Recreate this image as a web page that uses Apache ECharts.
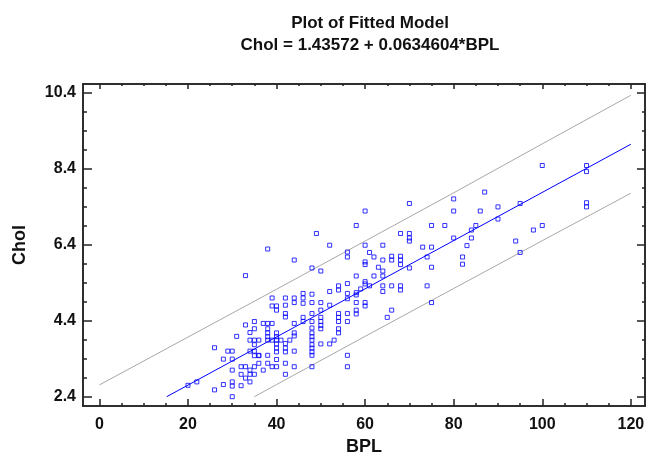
<!DOCTYPE html>
<html>
<head>
<meta charset="utf-8">
<script src="https://cdn.jsdelivr.net/npm/echarts@6/dist/echarts.min.js"></script>
<style>
html,body{margin:0;padding:0;background:#fff;}
#main{width:646px;height:452px;}
</style>
</head>
<body>
<div id="main"></div>
<script>
// tick labels
var xMajor = [0, 20, 40, 60, 80, 100, 120];
var xMinor = [0, 5, 10, 15, 20, 25, 30, 35, 40, 45, 50, 55, 60, 65, 70, 75, 80, 85, 90, 95, 100, 105, 110, 115, 120];
var yMajor = [2.4, 4.4, 6.4, 8.4, 10.4];
var yMinor = [2.4, 2.9, 3.4, 3.9, 4.4, 4.9, 5.4, 5.9, 6.4, 6.9, 7.4, 7.9, 8.4, 8.9, 9.4, 9.9, 10.4];

// fitted line and prediction limits
var fitX = [15.2, 120];
var fitY = [2.40, 9.05];
var upperX = [0, 20, 40, 60, 80, 100, 120];
var upperY = [2.71, 3.97, 5.23, 6.50, 7.77, 9.06, 10.34];
var lowerX = [35, 40, 60, 80, 100, 120];
var lowerY = [2.40, 2.72, 3.99, 5.25, 6.51, 7.76];

// observed points [BPL, Chol]
var observed = [
    [33,5.59],[20,2.70],[22,2.79],[26,3.69],[26,2.58],[28,3.39],[28,2.72],[29,3.60],[30,3.60],[30,3.39],
    [30,3.10],[30,2.79],[30,2.68],[30,2.40],[31,3.99],[32,3.19],[32,2.99],[32,2.69],[33,4.29],[33,3.19],
    [33,2.89],[34,4.09],[34,3.89],[34,3.60],[34,3.10],[34,2.99],[34,2.79],[35,4.38],[35,4.19],[35,3.89],
    [35,3.77],[35,3.60],[35,3.48],[35,3.19],[35,2.99],[36,3.48],[36,3.28],
    [38,6.29],[44,6.00],[49,6.70],[52,6.39],[56,6.21],[56,6.08],[58,6.91],[60,7.29],[60,6.39],[61,6.20],
    [62,6.08],[60,5.95],[60,5.88],[64,6.39],[64,6.00],[63,5.81],[66,6.10],[66,6.00],[68,6.70],[68,6.10],
    [68,6.00],[68,5.88],[70,7.49],[70,6.70],[70,6.58],[70,6.50],[70,5.79],[73,6.34],[75,6.91],[75,6.34],
    [74,6.08],[78,6.91],[48,5.79],
    [50,5.71],[58,5.58],[56,5.38],[62,5.58],[64,5.71],[64,5.58],[61,5.32],[60,5.43],[60,5.37],[59,5.24],
    [58,5.14],[58,5.08],[66,5.32],[68,5.32],[68,5.21],[64,5.32],[64,5.17],[74,5.32],[75,5.81],[75,4.88],
    [66,4.68],[65,4.49],[54,5.32],[54,5.21],[52,5.17],[56,5.12],[56,4.98],[58,4.88],[58,4.68],[58,4.58],
    [60,4.88],[60,4.79],[56,4.59],[56,4.38],[54,4.59],[54,4.49],[54,4.38],[52,4.81],[50,4.88],[50,4.68],
    [48,5.10],[48,4.88],[48,4.59],[48,4.38],[46,5.12],[46,5.00],[46,4.86],[44,5.00],[44,4.88],[42,5.00],
    [42,4.81],[40,4.79],[40,4.68],[39,5.00],[39,4.79],[42,4.59],[42,4.50],[44,4.33],[44,4.08],[44,4.00],
    [46,4.49],[46,4.38],[48,4.21],[48,4.08],[48,3.98],[48,3.89],[48,3.77],[48,3.68],[48,3.58],[48,3.49],
    [50,4.49],[50,4.38],[50,4.28],[50,4.19],[50,3.79],[52,3.79],[53,3.89],[54,4.19],[54,4.08],[56,3.49],
    [56,3.19],[48,3.19],[44,3.60],[44,3.19],[42,3.80],[42,3.68],[42,3.58],[42,3.28],[42,2.99],[40,4.08],
    [40,3.98],[40,3.89],[40,3.79],[40,3.68],[40,3.58],[40,3.38],[41,3.89],[43,3.89],[39,3.89],[38,4.19],
    [38,4.08],[38,3.98],[38,3.89],[37,4.33],[38,4.33],[39,4.33],[36,3.89],[36,3.49],[38,3.49],[37,3.10],
    [38,3.28],[39,3.19],[40,3.19],
    [100,8.49],[110,8.49],[110,8.33],[110,7.51],[110,7.40],[95,7.49],[87,7.79],[80,7.61],[80,7.29],[86,7.29],
    [90,7.40],[90,7.08],[85,6.91],[84,6.79],[84,6.58],[80,6.58],[83,6.38],[82,6.08],[82,5.89],[94,6.50],
    [95,6.20],[98,6.79],[100,6.91]
];

function pairs(xs, ys) {
    var out = [];
    for (var i = 0; i < xs.length; i++) {
        out.push([xs[i], ys[i]]);
    }
    return out;
}

var font = 'Arial, "Liberation Sans", sans-serif';
var lineCol = '#222';
var xMin = -3.7, xMax = 123.2;
var yMin = 2.155, yMax = 10.637;

function xAx(pos, ticks, len, labels) {
    return {
        type: 'value', position: pos, min: xMin, max: xMax,
        name: labels ? 'BPL' : '',
        nameLocation: 'middle', nameGap: 29,
        nameTextStyle: {fontFamily: font, fontWeight: 'bold', fontSize: 18, color: '#111'},
        axisLine: {show: true, onZero: false, lineStyle: {color: lineCol, width: 1.5}},
        axisTick: {show: true, inside: true, length: len, customValues: ticks, lineStyle: {color: lineCol, width: 1.5}},
        axisLabel: {show: !!labels, customValues: xMajor, margin: 11, fontFamily: font, fontWeight: 'bold', fontSize: 16, color: '#111'},
        splitLine: {show: false}
    };
}
function yAx(pos, ticks, len, labels) {
    return {
        type: 'value', position: pos, min: yMin, max: yMax,
        name: labels ? 'Chol' : '',
        nameLocation: 'middle', nameGap: 54,
        nameTextStyle: {fontFamily: font, fontWeight: 'bold', fontSize: 18, color: '#111'},
        axisLine: {show: true, onZero: false, lineStyle: {color: lineCol, width: 1.5}},
        axisTick: {show: true, inside: true, length: len, customValues: ticks, lineStyle: {color: lineCol, width: 1.5}},
        axisLabel: {show: !!labels, customValues: yMajor, margin: 7, fontFamily: font, fontWeight: 'bold', fontSize: 16, color: '#111',
            formatter: function (v) { return v.toFixed(1); }},
        splitLine: {show: false}
    };
}

var option = {
    animation: false,
    backgroundColor: '#fff',
    title: [
        {text: 'Plot of Fitted Model', left: 365, top: 10, textAlign: 'center',
         textStyle: {fontFamily: font, fontWeight: 'bold', fontSize: 17, color: '#111', lineHeight: 17}},
        {text: 'Chol = 1.43572 + 0.0634604*BPL', left: 365, top: 32, textAlign: 'center',
         textStyle: {fontFamily: font, fontWeight: 'bold', fontSize: 17, color: '#111', lineHeight: 17}}
    ],
    grid: {left: 83, right: 1, top: 84, bottom: 46, outerBoundsMode: 'none'},
    xAxis: [
        xAx('bottom', xMajor, 7, true),
        xAx('bottom', xMinor, 3, false),
        xAx('top', xMajor, 5, false),
        xAx('top', xMinor, 2, false)
    ],
    yAxis: [
        yAx('left', yMajor, 9, true),
        yAx('left', yMinor, 4, false),
        yAx('right', yMajor, 8, false),
        yAx('right', yMinor, 3, false)
    ],
    series: [
        {type: 'line', data: pairs(upperX, upperY), showSymbol: false, lineStyle: {color: '#a8a8a8', width: 1}},
        {type: 'line', data: pairs(lowerX, lowerY), showSymbol: false, lineStyle: {color: '#a8a8a8', width: 1}},
        {type: 'line', data: pairs(fitX, fitY), showSymbol: false, lineStyle: {color: '#0000ff', width: 1}},
        {type: 'scatter', data: observed, symbol: 'rect', symbolSize: 4, z: 5,
         itemStyle: {color: 'rgba(0,0,0,0)', borderColor: '#0000ff', borderWidth: 1}}
    ]
};

var chart = echarts.init(document.getElementById('main'));
chart.setOption(option);
</script>
</body>
</html>
